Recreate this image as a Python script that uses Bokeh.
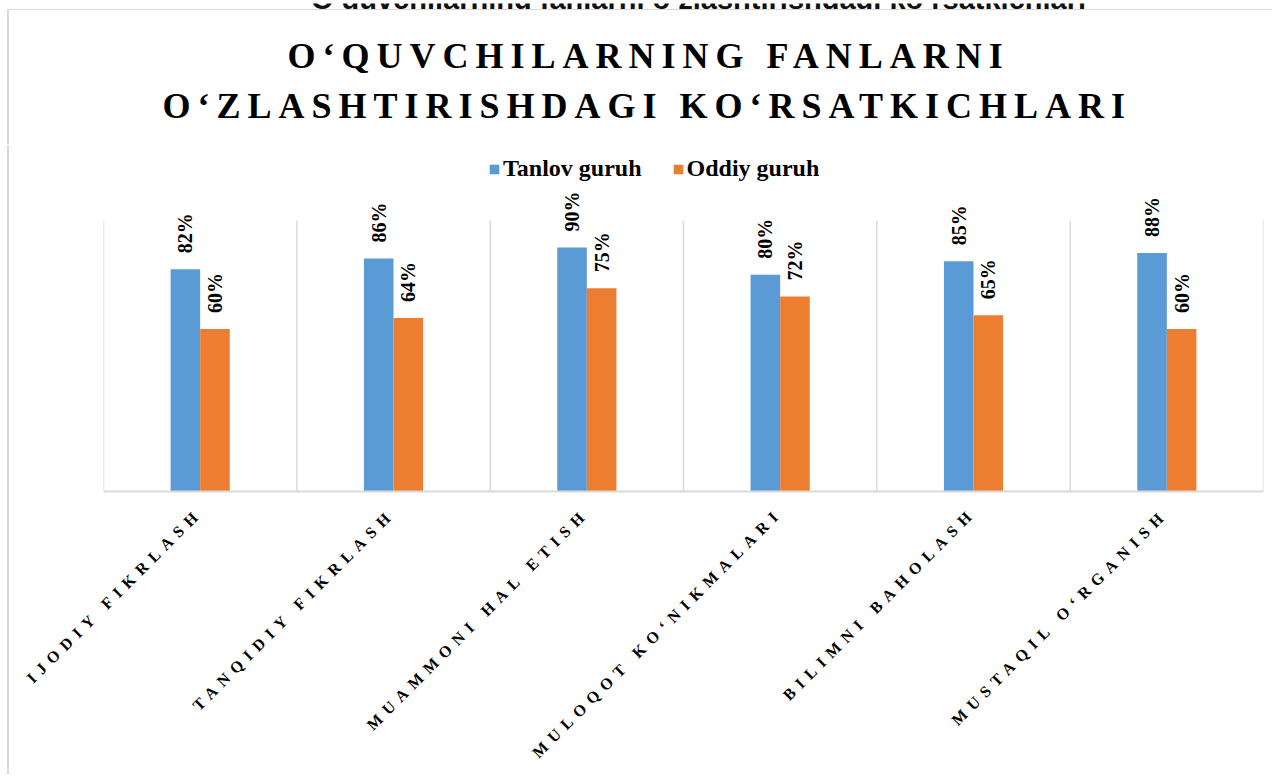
from math import pi, sqrt
from bokeh.plotting import figure
from bokeh.models import (ColumnDataSource, FactorRange, Range1d, LabelSet,
                          Legend, LegendItem, Span)
from bokeh.transform import dodge
from bokeh.core.properties import value
from bokeh.embed import file_html
from bokeh.resources import INLINE

# ---- data ----
categories = ["IJODIY FIKRLASH", "TANQIDIY FIKRLASH", "MUAMMONI HAL ETISH",
              "MULOQOT KO‘NIKMALARI", "BILIMNI BAHOLASH", "MUSTAQIL O‘RGANISH"]
tanlov = [82, 86, 90, 80, 85, 88]
oddiy = [60, 64, 75, 72, 65, 60]
series_names = ["Tanlov guruh", "Oddiy guruh"]
title_lines = ["O‘QUVCHILARNING FANLARNI", "O‘ZLASHTIRISHDAGI KO‘RSATKICHLARI"]
page_heading = "O‘quvchilarning fanlarni o‘zlashtirishdagi ko‘rsatkichlari"

# ---- style ----
BLUE = "#5B9BD5"
ORANGE = "#ED7D31"
GRID = "#D9D9D9"
FONT = "Liberation Serif"

# advance widths of the bold serif face (1/1000 em), used to lay out spaced text
ADV = {" ": 250, "‘": 333, "A": 722, "B": 667, "C": 722, "D": 722, "E": 667,
       "F": 611, "G": 778, "H": 778, "I": 389, "J": 500, "K": 778, "L": 667,
       "M": 944, "N": 722, "O": 778, "P": 611, "Q": 778, "R": 722, "S": 556,
       "T": 667, "U": 722, "V": 722, "W": 1000, "X": 722, "Y": 722, "Z": 667}


def spaced_len(s, size, spacing):
    return sum(ADV.get(c, 600) for c in s) * size / 1000 + spacing * (len(s) - 1)


W = 1265
OX, OY = 9, 10            # page position of the chart area
LEFT, RIGHT = 94, 11      # bar panel borders
H_TITLE, H_MAIN, H_AXIS = 135, 348, 281
BAR_PX = 271              # pixels for 100 %
BASE_PAD = 2              # pixels below the zero line in the bar panel
CAT_W = (W - LEFT - RIGHT) / len(categories)

TITLE_FS, TITLE_SP = 36, 7
AX_FS, AX_SP = 16, 6.5


def place(left, top, extra=None):
    st = {"position": "absolute", "left": f"{left}px", "top": f"{top}px"}
    if extra:
        st.update(extra)
    return st


def blank(**kw):
    f = figure(output_backend="svg", toolbar_location=None,
               x_axis_location=None, y_axis_location=None, **kw)
    f.outline_line_color = None
    f.grid.visible = False
    return f


# ---- page heading (cut by the top edge of the window) ----
H_HEAD = 9
ph = blank(width=1281, height=H_HEAD, x_range=Range1d(0, 1281),
           y_range=Range1d(0, H_HEAD), min_border=0)
ph.styles = place(0, 0)
ph.add_layout(LabelSet(x="x", y="y", text="text",
                       source=ColumnDataSource(dict(x=[698], y=[H_HEAD - 5],
                                                    text=[page_heading])),
                       text_align="center", text_baseline="alphabetic",
                       text_font=value("Liberation Sans"), text_font_style="bold",
                       text_font_size="29px", text_color="#111111"))

# ---- title panel ----
pt = blank(width=W, height=H_TITLE, x_range=Range1d(0, W), y_range=Range1d(0, H_TITLE),
           min_border=0)
pt.styles = place(OX, OY, {"letter-spacing": f"{TITLE_SP}px",
                           "box-shadow": f"-2px -1px 0 0 {GRID}"})
pt.add_layout(LabelSet(x="x", y="y", text="text",
                       source=ColumnDataSource(dict(x=[278, 153], y=[78, 28],
                                                    text=title_lines)),
                       text_align="left", text_baseline="alphabetic",
                       text_font=value(FONT), text_font_style="bold",
                       text_font_size=f"{TITLE_FS}px", text_color="black"))

# ---- bar panel ----
xr = FactorRange(factors=categories, range_padding=0)
src = ColumnDataSource(dict(
    cat=categories,
    t=[v / 100 for v in tanlov],
    o=[v / 100 for v in oddiy],
    tl=[f"{v}%" for v in tanlov],
    ol=[f"{v}%" for v in oddiy],
))
pm = blank(x_range=xr,
           y_range=Range1d(-BASE_PAD / BAR_PX, (H_MAIN - BASE_PAD) / BAR_PX),
           width=W, height=H_MAIN,
           min_border_left=LEFT, min_border_right=RIGHT,
           min_border_top=0, min_border_bottom=0)
pm.styles = place(OX, OY + H_TITLE, {"box-shadow": f"-2px 0 0 0 {GRID}"})

nb = len(categories) + 1
pm.segment(x0=list(range(nb)), y0=[0] * nb, x1=list(range(nb)), y1=[1] * nb,
           line_color=GRID, line_width=1.5)
pm.add_layout(Span(location=0, dimension="width", line_color=GRID, line_width=2))

bw = 0.153
rt = pm.vbar(x=dodge("cat", -bw / 2, range=xr), top="t", width=bw,
             source=src, fill_color=BLUE, line_color=None)
ro = pm.vbar(x=dodge("cat", bw / 2, range=xr), top="o", width=bw,
             source=src, fill_color=ORANGE, line_color=None)

for col, lab, off in [("t", "tl", -bw / 2), ("o", "ol", bw / 2)]:
    pm.add_layout(LabelSet(x=dodge("cat", off, range=xr), y=col, text=lab,
                           source=src, angle=pi / 2, text_align="left",
                           text_baseline="middle", y_offset=16,
                           text_font=value(FONT), text_font_style="bold",
                           text_font_size="20px", text_color="black"))

legend = Legend(items=[LegendItem(label=series_names[0], renderers=[rt]),
                       LegendItem(label=series_names[1], renderers=[ro])],
                orientation="horizontal", location=(385, 311),
                glyph_width=12, glyph_height=12, label_standoff=3, spacing=30,
                padding=0, margin=0, border_line_color=None,
                background_fill_alpha=0, label_text_font=FONT,
                label_text_font_style="bold", label_text_font_size="24px",
                label_text_color="black")
pm.add_layout(legend)

# ---- category label panel (same category scale as the bar panel) ----
lo = -LEFT / CAT_W
pa = blank(x_range=Range1d(lo, lo + W / CAT_W), y_range=Range1d(0, H_AXIS),
           width=W, height=H_AXIS, min_border=0)
pa.styles = place(OX, OY + H_TITLE + H_MAIN, {"letter-spacing": f"{AX_SP}px",
                                              "box-shadow": f"-2px 0 0 0 {GRID}"})

diag = [spaced_len(c, AX_FS, AX_SP) / sqrt(2) for c in categories]
cat_src = ColumnDataSource(dict(
    x=[i + 0.5 for i in range(len(categories))],
    y=[H_AXIS - 25] * len(categories),
    text=categories,
    dx=[-1 - d for d in diag],
    dy=[-d for d in diag],
))
pa.add_layout(LabelSet(x="x", y="y", text="text", source=cat_src,
                       x_offset="dx", y_offset="dy", angle=pi / 4,
                       text_align="left", text_baseline="alphabetic",
                       text_font=value(FONT), text_font_style="bold",
                       text_font_size=f"{AX_FS}px", text_color="black"))

open("out.html", "w").write(file_html([ph, pt, pm, pa], INLINE))
